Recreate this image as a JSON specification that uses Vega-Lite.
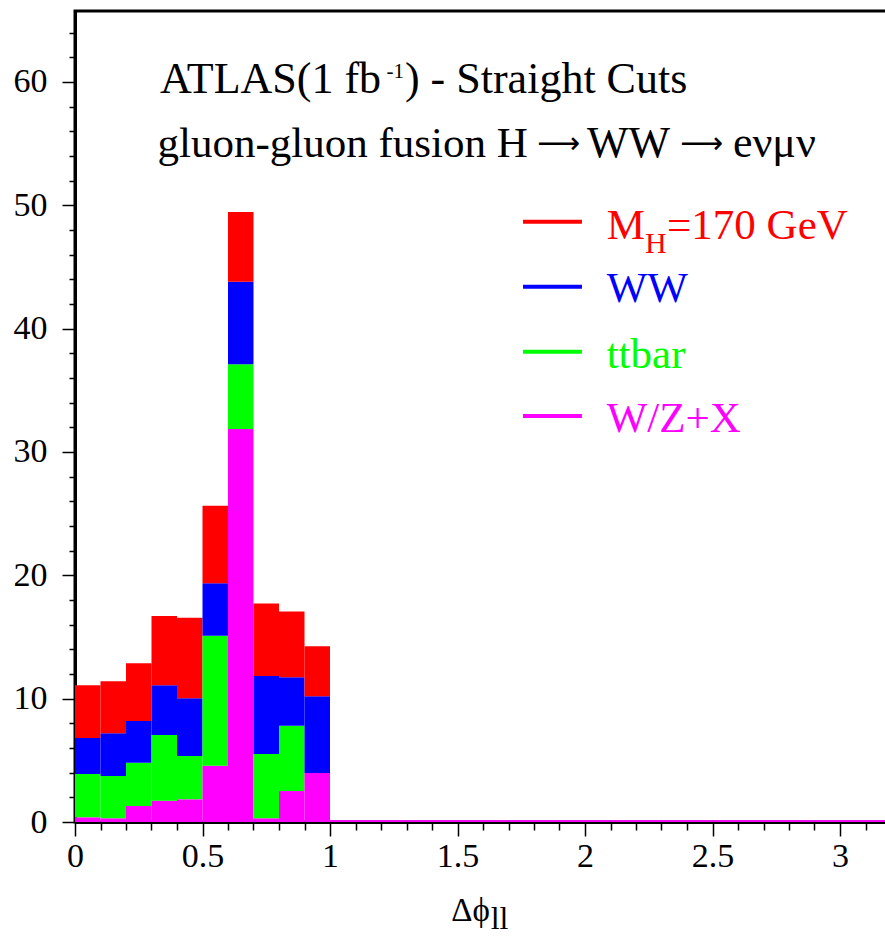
{
  "$schema": "https://vega.github.io/schema/vega-lite/v6.json",
  "width": 816,
  "height": 811,
  "autosize": "none",
  "padding": {"left": 75, "top": 11, "right": 0, "bottom": 116},
  "background": "white",
  "config": {
    "view": {"stroke": "black", "strokeWidth": 3},
    "font": "Liberation Serif",
    "text": {"font": "Liberation Serif"},
    "axis": {
      "labelFont": "Liberation Serif",
      "labelFontSize": 34,
      "labelColor": "black",
      "labelOverlap": false,
      "labelFlush": false,
      "tickColor": "black",
      "tickWidth": 1.5,
      "domainColor": "black",
      "domainWidth": 3,
      "grid": false,
      "titleFont": "Liberation Serif",
      "titleFontWeight": "normal",
      "titleColor": "black"
    }
  },
  "resolve": {"axis": {"x": "independent", "y": "independent"}},
  "datasets": {
    "hist": [
      {"lo": 0.0, "hi": 0.1, "series": "W/Z+X", "k": 1, "n": 0.38},
      {"lo": 0.0, "hi": 0.1, "series": "ttbar", "k": 2, "n": 3.51},
      {"lo": 0.0, "hi": 0.1, "series": "WW", "k": 3, "n": 2.92},
      {"lo": 0.0, "hi": 0.1, "series": "MH=170 GeV", "k": 4, "n": 4.27},
      {"lo": 0.1, "hi": 0.2, "series": "W/Z+X", "k": 1, "n": 0.30},
      {"lo": 0.1, "hi": 0.2, "series": "ttbar", "k": 2, "n": 3.43},
      {"lo": 0.1, "hi": 0.2, "series": "WW", "k": 3, "n": 3.46},
      {"lo": 0.1, "hi": 0.2, "series": "MH=170 GeV", "k": 4, "n": 4.22},
      {"lo": 0.2, "hi": 0.3, "series": "W/Z+X", "k": 1, "n": 1.30},
      {"lo": 0.2, "hi": 0.3, "series": "ttbar", "k": 2, "n": 3.51},
      {"lo": 0.2, "hi": 0.3, "series": "WW", "k": 3, "n": 3.38},
      {"lo": 0.2, "hi": 0.3, "series": "MH=170 GeV", "k": 4, "n": 4.68},
      {"lo": 0.3, "hi": 0.4, "series": "W/Z+X", "k": 1, "n": 1.73},
      {"lo": 0.3, "hi": 0.4, "series": "ttbar", "k": 2, "n": 5.33},
      {"lo": 0.3, "hi": 0.4, "series": "WW", "k": 3, "n": 4.02},
      {"lo": 0.3, "hi": 0.4, "series": "MH=170 GeV", "k": 4, "n": 5.63},
      {"lo": 0.4, "hi": 0.5, "series": "W/Z+X", "k": 1, "n": 1.84},
      {"lo": 0.4, "hi": 0.5, "series": "ttbar", "k": 2, "n": 3.51},
      {"lo": 0.4, "hi": 0.5, "series": "WW", "k": 3, "n": 4.68},
      {"lo": 0.4, "hi": 0.5, "series": "MH=170 GeV", "k": 4, "n": 6.52},
      {"lo": 0.5, "hi": 0.6, "series": "W/Z+X", "k": 1, "n": 4.57},
      {"lo": 0.5, "hi": 0.6, "series": "ttbar", "k": 2, "n": 10.52},
      {"lo": 0.5, "hi": 0.6, "series": "WW", "k": 3, "n": 4.27},
      {"lo": 0.5, "hi": 0.6, "series": "MH=170 GeV", "k": 4, "n": 6.27},
      {"lo": 0.6, "hi": 0.7, "series": "W/Z+X", "k": 1, "n": 31.87},
      {"lo": 0.6, "hi": 0.7, "series": "ttbar", "k": 2, "n": 5.25},
      {"lo": 0.6, "hi": 0.7, "series": "WW", "k": 3, "n": 6.68},
      {"lo": 0.6, "hi": 0.7, "series": "MH=170 GeV", "k": 4, "n": 5.65},
      {"lo": 0.7, "hi": 0.8, "series": "W/Z+X", "k": 1, "n": 0.30},
      {"lo": 0.7, "hi": 0.8, "series": "ttbar", "k": 2, "n": 5.21},
      {"lo": 0.7, "hi": 0.8, "series": "WW", "k": 3, "n": 6.33},
      {"lo": 0.7, "hi": 0.8, "series": "MH=170 GeV", "k": 4, "n": 5.87},
      {"lo": 0.8, "hi": 0.9, "series": "W/Z+X", "k": 1, "n": 2.51},
      {"lo": 0.8, "hi": 0.9, "series": "ttbar", "k": 2, "n": 5.30},
      {"lo": 0.8, "hi": 0.9, "series": "WW", "k": 3, "n": 3.92},
      {"lo": 0.8, "hi": 0.9, "series": "MH=170 GeV", "k": 4, "n": 5.33},
      {"lo": 0.9, "hi": 1.0, "series": "W/Z+X", "k": 1, "n": 3.97},
      {"lo": 0.9, "hi": 1.0, "series": "ttbar", "k": 2, "n": 0.0},
      {"lo": 0.9, "hi": 1.0, "series": "WW", "k": 3, "n": 6.22},
      {"lo": 0.9, "hi": 1.0, "series": "MH=170 GeV", "k": 4, "n": 4.06},
      {"lo": 1.0, "hi": 1.1, "series": "W/Z+X", "k": 1, "n": 0.15},
      {"lo": 1.1, "hi": 1.2, "series": "W/Z+X", "k": 1, "n": 0.15},
      {"lo": 1.2, "hi": 1.3, "series": "W/Z+X", "k": 1, "n": 0.15},
      {"lo": 1.3, "hi": 1.4, "series": "W/Z+X", "k": 1, "n": 0.15},
      {"lo": 1.4, "hi": 1.5, "series": "W/Z+X", "k": 1, "n": 0.15},
      {"lo": 1.5, "hi": 1.6, "series": "W/Z+X", "k": 1, "n": 0.15},
      {"lo": 1.6, "hi": 1.7, "series": "W/Z+X", "k": 1, "n": 0.15},
      {"lo": 1.7, "hi": 1.8, "series": "W/Z+X", "k": 1, "n": 0.15},
      {"lo": 1.8, "hi": 1.9, "series": "W/Z+X", "k": 1, "n": 0.15},
      {"lo": 1.9, "hi": 2.0, "series": "W/Z+X", "k": 1, "n": 0.15},
      {"lo": 2.0, "hi": 2.1, "series": "W/Z+X", "k": 1, "n": 0.15},
      {"lo": 2.1, "hi": 2.2, "series": "W/Z+X", "k": 1, "n": 0.15},
      {"lo": 2.2, "hi": 2.3, "series": "W/Z+X", "k": 1, "n": 0.15},
      {"lo": 2.3, "hi": 2.4, "series": "W/Z+X", "k": 1, "n": 0.15},
      {"lo": 2.4, "hi": 2.5, "series": "W/Z+X", "k": 1, "n": 0.15},
      {"lo": 2.5, "hi": 2.6, "series": "W/Z+X", "k": 1, "n": 0.15},
      {"lo": 2.6, "hi": 2.7, "series": "W/Z+X", "k": 1, "n": 0.15},
      {"lo": 2.7, "hi": 2.8, "series": "W/Z+X", "k": 1, "n": 0.15},
      {"lo": 2.8, "hi": 2.9, "series": "W/Z+X", "k": 1, "n": 0.15},
      {"lo": 2.9, "hi": 3.0, "series": "W/Z+X", "k": 1, "n": 0.15},
      {"lo": 3.0, "hi": 3.1, "series": "W/Z+X", "k": 1, "n": 0.15},
      {"lo": 3.1, "hi": 3.2, "series": "W/Z+X", "k": 1, "n": 0.15}
    ]
  },
  "layer": [
    {
      "data": {"name": "hist"},
      "transform": [
        {"stack": "n", "groupby": ["lo"], "sort": [{"field": "k", "order": "ascending"}], "as": ["y0", "y1"]}
      ],
      "mark": {"type": "rect", "strokeWidth": 0},
      "encoding": {
        "x": {
          "field": "lo", "type": "quantitative",
          "scale": {"domain": [0, 3.2], "nice": false, "zero": false},
          "axis": {
            "orient": "bottom",
            "values": [0, 0.5, 1, 1.5, 2, 2.5, 3],
            "format": "~g",
            "labelFont": "Liberation Serif",
            "labelFontSize": 34,
            "tickSize": 14,
            "labelPadding": 3,
            "title": "Δϕ",
            "titleFont": "Liberation Serif",
            "titleFontSize": 33,
            "titlePadding": 21,
            "titleX": 395
          }
        },
        "x2": {"field": "hi"},
        "y": {
          "field": "y0", "type": "quantitative",
          "scale": {"domain": [0, 65.75], "nice": false},
          "axis": {
            "orient": "left",
            "values": [0, 10, 20, 30, 40, 50, 60],
            "format": "d",
            "labelFont": "Liberation Serif",
            "labelFontSize": 34,
            "tickSize": 13,
            "labelPadding": 15,
            "title": null
          }
        },
        "y2": {"field": "y1"},
        "color": {
          "field": "series", "type": "nominal",
          "scale": {"domain": ["MH=170 GeV", "WW", "ttbar", "W/Z+X"], "range": ["#ff0000", "#0000ff", "#00ff00", "#ff00ff"]},
          "legend": null
        }
      }
    },
    {
      "data": {"values": [{"v": 0}]},
      "mark": {"type": "point", "opacity": 0},
      "encoding": {
        "x": {
          "field": "v", "type": "quantitative",
          "axis": {
            "orient": "bottom",
            "values": [0.1, 0.2, 0.3, 0.4, 0.6, 0.7, 0.8, 0.9, 1.1, 1.2, 1.3, 1.4, 1.6, 1.7, 1.8, 1.9, 2.1, 2.2, 2.3, 2.4, 2.6, 2.7, 2.8, 2.9, 3.1],
            "labels": false,
            "domain": false,
            "tickSize": 8,
            "title": null
          }
        },
        "y": {
          "field": "v", "type": "quantitative",
          "axis": {
            "orient": "left",
            "values": [2, 4, 6, 8, 12, 14, 16, 18, 22, 24, 26, 28, 32, 34, 36, 38, 42, 44, 46, 48, 52, 54, 56, 58, 62, 64],
            "labels": false,
            "domain": false,
            "tickSize": 6,
            "title": null
          }
        }
      }
    },
    {
      "data": {"values": [{}]},
      "mark": {"type": "text", "text": "ATLAS(1 fb", "fontSize": 44, "align": "left", "baseline": "alphabetic", "color": "black"},
      "encoding": {"x": {"datum": 0.333, "axis": null}, "y": {"datum": 59.11, "axis": null}}
    },
    {
      "data": {"values": [{}]},
      "mark": {"type": "text", "text": "-1", "fontSize": 21, "align": "left", "baseline": "alphabetic", "color": "black"},
      "encoding": {"x": {"datum": 1.222, "axis": null}, "y": {"datum": 60.3, "axis": null}}
    },
    {
      "data": {"values": [{}]},
      "mark": {"type": "text", "text": ") - Straight Cuts", "fontSize": 44, "align": "left", "baseline": "alphabetic", "color": "black"},
      "encoding": {"x": {"datum": 1.294, "axis": null}, "y": {"datum": 59.11, "axis": null}}
    },
    {
      "data": {"values": [{}]},
      "mark": {"type": "text", "text": "gluon-gluon fusion H", "fontSize": 43, "align": "left", "baseline": "alphabetic", "color": "black"},
      "encoding": {"x": {"datum": 0.3235, "axis": null}, "y": {"datum": 53.92, "axis": null}}
    },
    {
      "data": {"values": [{}]},
      "mark": {"type": "text", "text": "⟶", "font": "DejaVu Sans", "fontSize": 30, "align": "left", "baseline": "alphabetic", "color": "black"},
      "encoding": {"x": {"datum": 1.812, "axis": null}, "y": {"datum": 54.2, "axis": null}}
    },
    {
      "data": {"values": [{}]},
      "mark": {"type": "text", "text": "WW", "fontSize": 44, "align": "left", "baseline": "alphabetic", "color": "black"},
      "encoding": {"x": {"datum": 2.008, "axis": null}, "y": {"datum": 53.92, "axis": null}}
    },
    {
      "data": {"values": [{}]},
      "mark": {"type": "text", "text": "⟶", "font": "DejaVu Sans", "fontSize": 30, "align": "left", "baseline": "alphabetic", "color": "black"},
      "encoding": {"x": {"datum": 2.373, "axis": null}, "y": {"datum": 54.2, "axis": null}}
    },
    {
      "data": {"values": [{}]},
      "mark": {"type": "text", "text": "eνμν", "fontSize": 44, "align": "left", "baseline": "alphabetic", "color": "black"},
      "encoding": {"x": {"datum": 2.58, "axis": null}, "y": {"datum": 53.92, "axis": null}}
    },
    {
      "data": {"values": [{}]},
      "mark": {"type": "rule", "color": "#ff0000", "strokeWidth": 4},
      "encoding": {"x": {"datum": 1.757, "axis": null}, "x2": {"datum": 1.988}, "y": {"datum": 48.67, "axis": null}}
    },
    {
      "data": {"values": [{}]},
      "mark": {"type": "rule", "color": "#0000ff", "strokeWidth": 4},
      "encoding": {"x": {"datum": 1.757, "axis": null}, "x2": {"datum": 1.988}, "y": {"datum": 43.40, "axis": null}}
    },
    {
      "data": {"values": [{}]},
      "mark": {"type": "rule", "color": "#00ff00", "strokeWidth": 4},
      "encoding": {"x": {"datum": 1.757, "axis": null}, "x2": {"datum": 1.988}, "y": {"datum": 38.13, "axis": null}}
    },
    {
      "data": {"values": [{}]},
      "mark": {"type": "rule", "color": "#ff00ff", "strokeWidth": 4},
      "encoding": {"x": {"datum": 1.757, "axis": null}, "x2": {"datum": 1.988}, "y": {"datum": 32.92, "axis": null}}
    },
    {
      "data": {"values": [{}]},
      "mark": {"type": "text", "text": "M", "fontSize": 43, "align": "left", "baseline": "alphabetic", "color": "#ff0000"},
      "encoding": {"x": {"datum": 2.085, "axis": null}, "y": {"datum": 47.27, "axis": null}}
    },
    {
      "data": {"values": [{}]},
      "mark": {"type": "text", "text": "H", "fontSize": 30, "align": "left", "baseline": "alphabetic", "color": "#ff0000"},
      "encoding": {"x": {"datum": 2.235, "axis": null}, "y": {"datum": 46.14, "axis": null}}
    },
    {
      "data": {"values": [{}]},
      "mark": {"type": "text", "text": "=170 GeV", "fontSize": 43, "align": "left", "baseline": "alphabetic", "color": "#ff0000"},
      "encoding": {"x": {"datum": 2.322, "axis": null}, "y": {"datum": 47.27, "axis": null}}
    },
    {
      "data": {"values": [{}]},
      "mark": {"type": "text", "text": "WW", "fontSize": 43, "align": "left", "baseline": "alphabetic", "color": "#0000ff"},
      "encoding": {"x": {"datum": 2.085, "axis": null}, "y": {"datum": 42.19, "axis": null}}
    },
    {
      "data": {"values": [{}]},
      "mark": {"type": "text", "text": "ttbar", "fontSize": 43, "align": "left", "baseline": "alphabetic", "color": "#00ff00"},
      "encoding": {"x": {"datum": 2.085, "axis": null}, "y": {"datum": 36.84, "axis": null}}
    },
    {
      "data": {"values": [{}]},
      "mark": {"type": "text", "text": "W/Z+X", "fontSize": 43, "align": "left", "baseline": "alphabetic", "color": "#ff00ff"},
      "encoding": {"x": {"datum": 2.085, "axis": null}, "y": {"datum": 31.62, "axis": null}}
    },
    {
      "data": {"values": [{}]},
      "mark": {"type": "text", "text": "ll", "fontSize": 32, "align": "left", "baseline": "alphabetic", "color": "black"},
      "encoding": {"x": {"datum": 1.63, "axis": null}, "y": {"datum": -8.7, "axis": null}}
    }
  ]
}
